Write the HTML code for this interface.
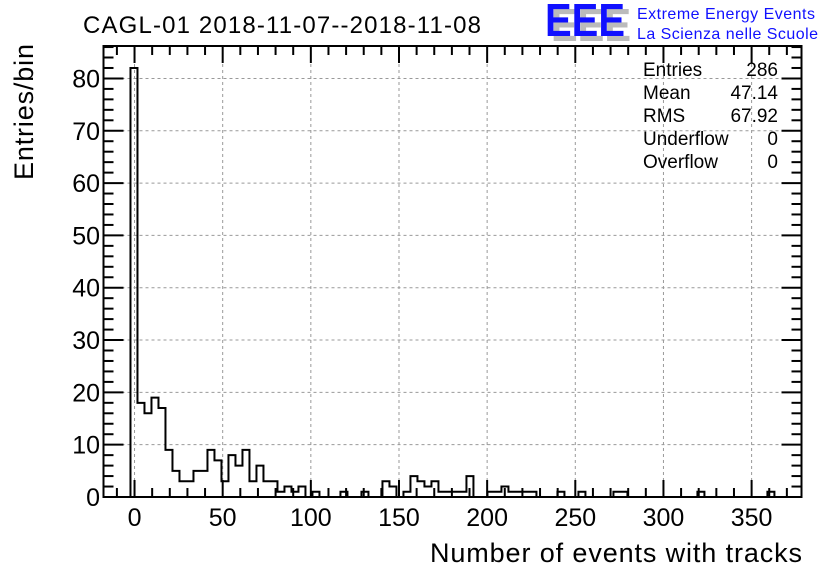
<!DOCTYPE html>
<html><head><meta charset="utf-8">
<style>
html,body{margin:0;padding:0;background:#fff;}
svg{display:block;font-family:"Liberation Sans",Arial,sans-serif;}
</style></head>
<body>
<svg id="chart" width="836" height="572" viewBox="0 0 836 572" xmlns="http://www.w3.org/2000/svg">
<rect width="836" height="572" fill="#fff"/>
<text x="83" y="33" font-size="24" textLength="398" fill="#000">CAGL-01 2018-11-07--2018-11-08</text>
<g>
<text x="551" y="41" font-size="46" font-weight="bold" fill="#bbb" textLength="80" lengthAdjust="spacingAndGlyphs">EEE</text>
<text x="545" y="36" font-size="46" font-weight="bold" fill="#1010ff" textLength="80" lengthAdjust="spacingAndGlyphs">EEE</text>
<text x="637" y="19" font-size="16" fill="#1010ff" textLength="178">Extreme Energy Events</text>
<text x="637" y="39" font-size="16" fill="#1010ff" textLength="181">La Scienza nelle Scuole</text>
</g>
<g id="grid"></g>
<g id="hist"></g>
<g id="axes"></g>
<g font-size="19" fill="#000">
<text x="643" y="76">Entries</text><text x="778" y="76" text-anchor="end">286</text>
<text x="643" y="99">Mean</text><text x="778" y="99" text-anchor="end">47.14</text>
<text x="643" y="122">RMS</text><text x="778" y="122" text-anchor="end">67.92</text>
<text x="643" y="145">Underflow</text><text x="778" y="145" text-anchor="end">0</text>
<text x="643" y="168">Overflow</text><text x="778" y="168" text-anchor="end">0</text>
</g>
<text transform="translate(33,180) rotate(-90)" font-size="27" textLength="136" fill="#000">Entries/bin</text>
<text x="802" y="562" font-size="27" text-anchor="end" textLength="372" fill="#000">Number of events with tracks</text>
</svg>
<script>
// histogram data (bin index -> count), bins of ~4 units starting at -2.3
const binStart = -2.3;
const binWidth = 3.97;
const binIndex = [0,1,2,3,4,5,6,7,8,9,10,11,12,13,14,15,16,17,18,19,20,21,22,23,24,25,26,30,33,36,37,38,39,40,41,42,43,44,45,46,47,48,51,52,53,54,55,56,57,61,64,69,70,81,91];
const binCount = [82,18,16,19,17,9,5,3,3,5,5,9,7,3,8,6,9,3,6,3,3,1,2,1,2,0,1,1,1,3,2,0,1,4,3,2,3,1,1,1,1,4,1,1,2,1,1,1,1,1,1,1,1,1,1];
const xTicks = [0,50,100,150,200,250,300,350];
const yTicks = [0,10,20,30,40,50,60,70,80];

const L=103.5,R=801.5,T=46,B=497;
const xMin=-17.6, xMax=378.3, yMax=86.2;
const sx=v=>L+(v-xMin)/(xMax-xMin)*(R-L);
const sy=v=>B-v/yMax*(B-T);
const NS="http://www.w3.org/2000/svg";
function mk(tag,attrs,parent){const e=document.createElementNS(NS,tag);for(const k in attrs)e.setAttribute(k,attrs[k]);parent.appendChild(e);return e;}
const grid=document.getElementById('grid'),hist=document.getElementById('hist'),axes=document.getElementById('axes');

xTicks.forEach(t=>{const l=mk('line',{x1:sx(t),x2:sx(t),y1:T,y2:B,stroke:'#999','stroke-dasharray':'3,3','stroke-width':1},grid);

});
yTicks.forEach(t=>{if(t===0)return;const l=mk('line',{x1:L,x2:R,y1:sy(t),y2:sy(t),stroke:'#999','stroke-dasharray':'3,3','stroke-width':1},grid);

});

const nb=Math.max(...binIndex)+1;
const counts=new Array(nb).fill(0);
binIndex.forEach((k,i)=>counts[k]=binCount[i]);
let d='M'+sx(binStart)+','+sy(0);
for(let k=0;k<nb;k++){const x0=sx(binStart+k*binWidth),x1=sx(binStart+(k+1)*binWidth);d+=' L'+x0+','+sy(counts[k])+' L'+x1+','+sy(counts[k]);}
d+=' L'+sx(binStart+nb*binWidth)+','+sy(0);
const p=mk('path',{d:d,fill:'none',stroke:'#000','stroke-width':2},hist);



const fr=mk('rect',{x:L,y:T,width:R-L,height:B-T,fill:'none',stroke:'#000','stroke-width':2},axes);


for(let v=-10;v<=370;v+=10){const maj=v%50===0;const len=maj?17:9;
mk('line',{x1:sx(v),x2:sx(v),y1:B,y2:B-len,stroke:'#000','stroke-width':2},axes);
mk('line',{x1:sx(v),x2:sx(v),y1:T,y2:T+len,stroke:'#000','stroke-width':2},axes);}
xTicks.forEach(t=>{const tx=mk('text',{x:sx(t),y:526,'font-size':25,'text-anchor':'middle',fill:'#000'},axes);tx.textContent=t;

});
for(let v=0;v<=86;v+=2){const maj=v%10===0;const len=maj?20:10;
mk('line',{x1:L,x2:L+len,y1:sy(v),y2:sy(v),stroke:'#000','stroke-width':2},axes);
mk('line',{x1:R,x2:R-len,y1:sy(v),y2:sy(v),stroke:'#000','stroke-width':2},axes);}
yTicks.forEach(t=>{const tx=mk('text',{x:100,y:sy(t)+9,'font-size':25,'text-anchor':'end',fill:'#000'},axes);tx.textContent=t;

});
</script>
</body></html>
